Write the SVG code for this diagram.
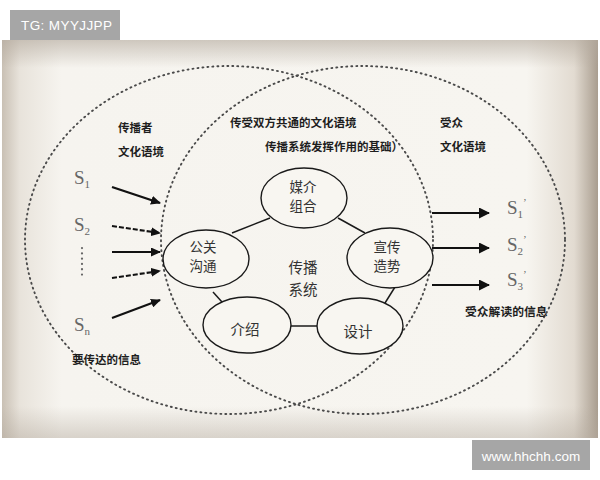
<svg xmlns="http://www.w3.org/2000/svg" width="600" height="480" viewBox="0 0 600 480">
<defs>
<linearGradient id="gh" x1="0" y1="0" x2="1" y2="0">
<stop offset="0" stop-color="#c9c0b4"/>
<stop offset="0.03" stop-color="#e8e3db"/>
<stop offset="0.1" stop-color="#f6f4ef"/>
<stop offset="0.88" stop-color="#f7f5f0"/>
<stop offset="0.96" stop-color="#e2dbd1"/>
<stop offset="1" stop-color="#a99d8f"/>
</linearGradient>
<linearGradient id="gv" x1="0" y1="0" x2="0" y2="1">
<stop offset="0" stop-color="#b3a99d" stop-opacity="0.6"/>
<stop offset="0.07" stop-color="#b3a99d" stop-opacity="0"/>
<stop offset="0.92" stop-color="#b3a99d" stop-opacity="0"/>
<stop offset="1" stop-color="#b3a99d" stop-opacity="0.45"/>
</linearGradient>
<marker id="ah" markerUnits="userSpaceOnUse" markerWidth="10" markerHeight="9" refX="9" refY="4.5" orient="auto">
<path d="M0,0 L10,4.5 L0,9 z" fill="#111"/>
</marker>
<marker id="ah2" markerUnits="userSpaceOnUse" markerWidth="11" markerHeight="11" refX="10" refY="5.5" orient="auto">
<path d="M0,0 L11,5.5 L0,11 z" fill="#111"/>
</marker>
<style>
.lbl{font-family:"Noto Sans CJK SC","Noto Sans",sans-serif;font-size:11.5px;font-weight:700;fill:#1e1e1e}
.nt{font-family:"Noto Sans CJK SC","Noto Sans",sans-serif;font-size:13.5px;fill:#333;text-anchor:middle}
.ct{font-size:14.5px}
.node{fill:#f8f6f1;stroke:#1a1a1a;stroke-width:1.4}
.link{stroke:#1a1a1a;stroke-width:1.5;fill:none}
.dot{fill:none;stroke:#4a4a4a;stroke-width:1.9;stroke-dasharray:1 4;stroke-linecap:round}
.s{font-family:"Liberation Serif",serif;font-size:19px;fill:#666}
.sub{font-size:11px}
.wm{font-family:"Liberation Sans",sans-serif;fill:#fff}
.arr{stroke:#111;stroke-width:2.2;fill:none}
</style>
</defs>
<rect x="0" y="0" width="600" height="480" fill="#ffffff"/>
<rect x="2" y="40" width="596" height="398" fill="url(#gh)"/>
<rect x="2" y="40" width="596" height="398" fill="url(#gv)"/>
<rect x="10" y="10" width="110" height="30" fill="#a6a6a6"/>
<text class="wm" x="21" y="30" font-size="13.5" letter-spacing="0.4">TG: MYYJJPP</text>
<rect x="472" y="440" width="118" height="30" fill="#a6a6a6"/>
<text class="wm" x="531" y="461" font-size="13.5" text-anchor="middle">www.hhchh.com</text>

<g id="contexts">
<ellipse class="dot" cx="229" cy="240" rx="204" ry="174"/>
<ellipse class="dot" cx="363" cy="240" rx="202" ry="174"/>
</g>

<g id="labels">
<text class="lbl" x="118" y="132">传播者</text>
<text class="lbl" x="118" y="156">文化语境</text>
<text class="lbl" x="230" y="127">传受双方共通的文化语境</text>
<text class="lbl" x="265" y="151">传播系统发挥作用的基础）</text>
<text class="lbl" x="440" y="127">受众</text>
<text class="lbl" x="440" y="151">文化语境</text>
<text class="lbl" x="72" y="364">要传达的信息</text>
<text class="lbl" x="465" y="316" style="font-size:11.8px">受众解读的信息</text>
</g>

<g id="messages">
<text class="s" x="74" y="184">S<tspan class="sub" dy="4">1</tspan></text>
<text class="s" x="74" y="231">S<tspan class="sub" dy="4">2</tspan></text>
<line x1="82" y1="248" x2="82" y2="279" stroke="#666" stroke-width="2.2" stroke-dasharray="0.1 5.2" stroke-linecap="round"/>
<text class="s" x="74" y="331">S<tspan class="sub" dy="4">n</tspan></text>
<text class="s" x="507" y="214">S<tspan class="sub" dy="4">1</tspan><tspan class="sub" dy="-12">’</tspan></text>
<text class="s" x="507" y="251">S<tspan class="sub" dy="4">2</tspan><tspan class="sub" dy="-12">’</tspan></text>
<text class="s" x="507" y="286">S<tspan class="sub" dy="4">3</tspan><tspan class="sub" dy="-12">’</tspan></text>
</g>

<g id="connectors">
<line class="arr" x1="112" y1="187" x2="160" y2="203" marker-end="url(#ah)"/>
<line class="arr" x1="112" y1="226" x2="160" y2="233" stroke-dasharray="5 2" marker-end="url(#ah)"/>
<line class="arr" x1="112" y1="252" x2="160" y2="252" marker-end="url(#ah)"/>
<line class="arr" x1="112" y1="278" x2="160" y2="271" stroke-dasharray="5 2" marker-end="url(#ah)"/>
<line class="arr" x1="112" y1="318" x2="160" y2="300" marker-end="url(#ah)"/>
<line class="arr" x1="432" y1="213" x2="489" y2="213" stroke-width="3" marker-end="url(#ah2)"/>
<line class="arr" x1="432" y1="248" x2="489" y2="248" stroke-width="3" marker-end="url(#ah2)"/>
<line class="arr" x1="432" y1="285" x2="489" y2="285" stroke-width="3" marker-end="url(#ah2)"/>
<line class="link" x1="232" y1="233" x2="270" y2="218"/>
<line class="link" x1="338" y1="218" x2="365" y2="233"/>
<line class="link" x1="395" y1="287" x2="385" y2="303"/>
<line class="link" x1="288" y1="326" x2="318" y2="326"/>
<line class="link" x1="213" y1="292" x2="222" y2="302"/>
</g>

<g id="center-label">
<text class="nt ct" x="303" y="273">传播<tspan x="303" dy="22">系统</tspan></text>
</g>

<g id="node-media">
<ellipse class="node" cx="304" cy="198" rx="43" ry="30"/>
<text class="nt" x="303" y="191.5">媒介<tspan x="303" dy="19.8">组合</tspan></text>
</g>
<g id="node-pr">
<ellipse class="node" cx="206" cy="259" rx="43" ry="29"/>
<text class="nt" x="203" y="251.5">公关<tspan x="203" dy="19.8">沟通</tspan></text>
</g>
<g id="node-promo">
<ellipse class="node" cx="390" cy="258" rx="43" ry="30"/>
<text class="nt" x="387" y="251.5">宣传<tspan x="387" dy="19.8">造势</tspan></text>
</g>
<g id="node-intro">
<ellipse class="node" cx="247" cy="325" rx="44" ry="28"/>
<text class="nt ct" x="245" y="335">介绍</text>
</g>
<g id="node-design">
<ellipse class="node" cx="360" cy="326" rx="43" ry="28"/>
<text class="nt ct" x="358" y="337">设计</text>
</g>
</svg>
